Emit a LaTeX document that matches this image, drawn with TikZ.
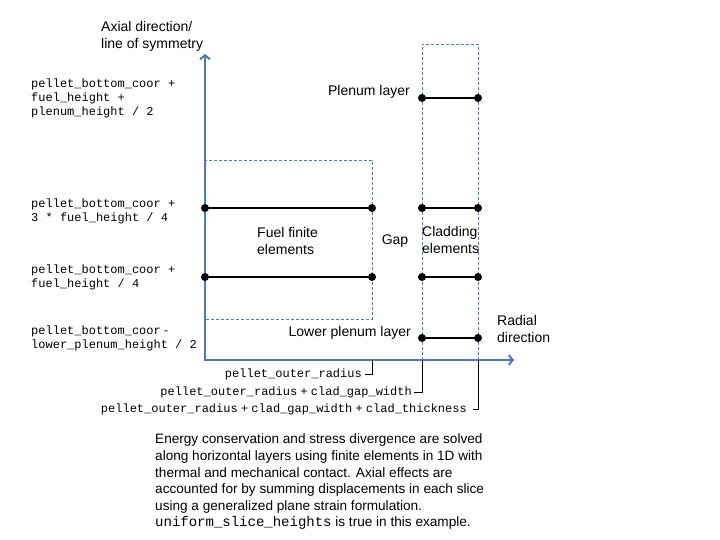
\documentclass[tikz,border=0pt]{standalone}
\usepackage{fontspec}
\setmainfont{Liberation Sans}
\setmonofont{Liberation Mono}
\usetikzlibrary{arrows.meta}
\definecolor{axisblue}{HTML}{4A7EBB}
\newcommand{\splus}{{\rmfamily\ +\ }}
\newcommand{\sminus}{{\rmfamily\ -}}

\begin{document}
\begin{tikzpicture}[x=1pt,y=-1pt,
    axis/.style={draw=axisblue,line width=2pt,{Straight Barb[length=4pt,width=10pt]}-{Straight Barb[length=4pt,width=10pt]}},
    region/.style={draw=axisblue,dash pattern=on 3pt off 2pt,line width=0.8pt},
    element/.style={line width=1.8pt},
    meshnode/.style={circle,fill=black,inner sep=0pt,minimum size=8pt},
    desc/.style={font=\fontsize{14}{17}\selectfont,align=left,inner sep=0pt},
    coor/.style={font=\fontsize{12}{14}\selectfont\ttfamily,align=left,inner sep=0pt},
    radtick/.style={line width=0.8pt}]
    \useasboundingbox (0,0) rectangle (720,540);
    \coordinate (origin) at (205,360);
    \coordinate (axtop) at (205,54);
    \coordinate (radend) at (514,360);
    \coordinate (rpel) at (372,360);
    \coordinate (rgap) at (422,360);
    \coordinate (rclad) at (478,360);
    % dashed regions
    \draw [region] (205,160) rectangle (372,319);
    \draw [region] (rgap) -- (422,44) -- (478,44) -- (rclad);
    \draw [axis] (axtop) -- (origin) -- (radend);
    % fuel elements
    \foreach \y/\n in {208/a,277/b} {
      \node [meshnode] (fin\n) at (205,\y) {};
      \node [meshnode] (fout\n) at (372,\y) {};
      \draw [element] (fin\n) -- (fout\n);
    }
    % cladding elements
    \foreach \y/\n in {98/a,208/b,277/c,338/d} {
      \node [meshnode] (cin\n) at (422,\y) {};
      \node [meshnode] (cout\n) at (478,\y) {};
      \draw [element] (cin\n) -- (cout\n);
    }
    \node [desc,anchor=west] (axial) at (101,36) {Axial direction/\\line of symmetry};
    \node [desc,anchor=west] (radial) at (497,329) {Radial\\direction};
    \node [desc,anchor=east] (plenum) at (410,92) {Plenum layer};
    \node [desc,anchor=east] (lplenum) at (411,333) {Lower plenum layer};
    \node [desc,anchor=west] (fuel) at (257,241) {Fuel finite\\elements};
    \node [desc] (gap) at (395,241) {Gap};
    \node [desc,anchor=west] (clad) at (422,240) {Cladding\\elements};
    % axial positions
    \node [coor,anchor=west] (zplen) at (31,98) {pellet\_bottom\_coor +\\fuel\_height +\\plenum\_height / 2};
    \node [coor,anchor=west] (zup) at (31,211) {pellet\_bottom\_coor +\\3 * fuel\_height / 4};
    \node [coor,anchor=west] (zlow) at (31,277) {pellet\_bottom\_coor +\\fuel\_height / 4};
    \node [coor,anchor=west] (zlplen) at (31,338) {pellet\_bottom\_coor\sminus\\lower\_plenum\_height / 2};
    % radial positions
    \node [coor,anchor=east] (rpeltxt) at (362,374) {pellet\_outer\_radius};
    \node [coor,anchor=east] (rgaptxt) at (412,392) {pellet\_outer\_radius\splus clad\_gap\_width};
    \node [coor,anchor=east] (rcladtxt) at (467,409) {pellet\_outer\_radius\splus clad\_gap\_width\splus clad\_thickness};
    \draw [radtick] ([xshift=3pt]rpeltxt.east) -| (rpel);
    \draw [radtick] ([xshift=2pt]rgaptxt.east) -| (rgap);
    \draw [radtick] ([xshift=6pt]rcladtxt.east) -| (rclad);
    \node [desc,font=\fontsize{13.6}{16.6}\selectfont,anchor=west] (note) at (155,482) {Energy conservation and stress divergence are solved\\along horizontal layers using finite elements in 1D with\\thermal and mechanical contact. Axial effects are\\accounted for by summing displacements in each slice\\using a generalized plane strain formulation.\\{\fontsize{14}{16.6}\selectfont\ttfamily uniform\_slice\_heights} is true in this example.};
\end{tikzpicture}
\end{document}
